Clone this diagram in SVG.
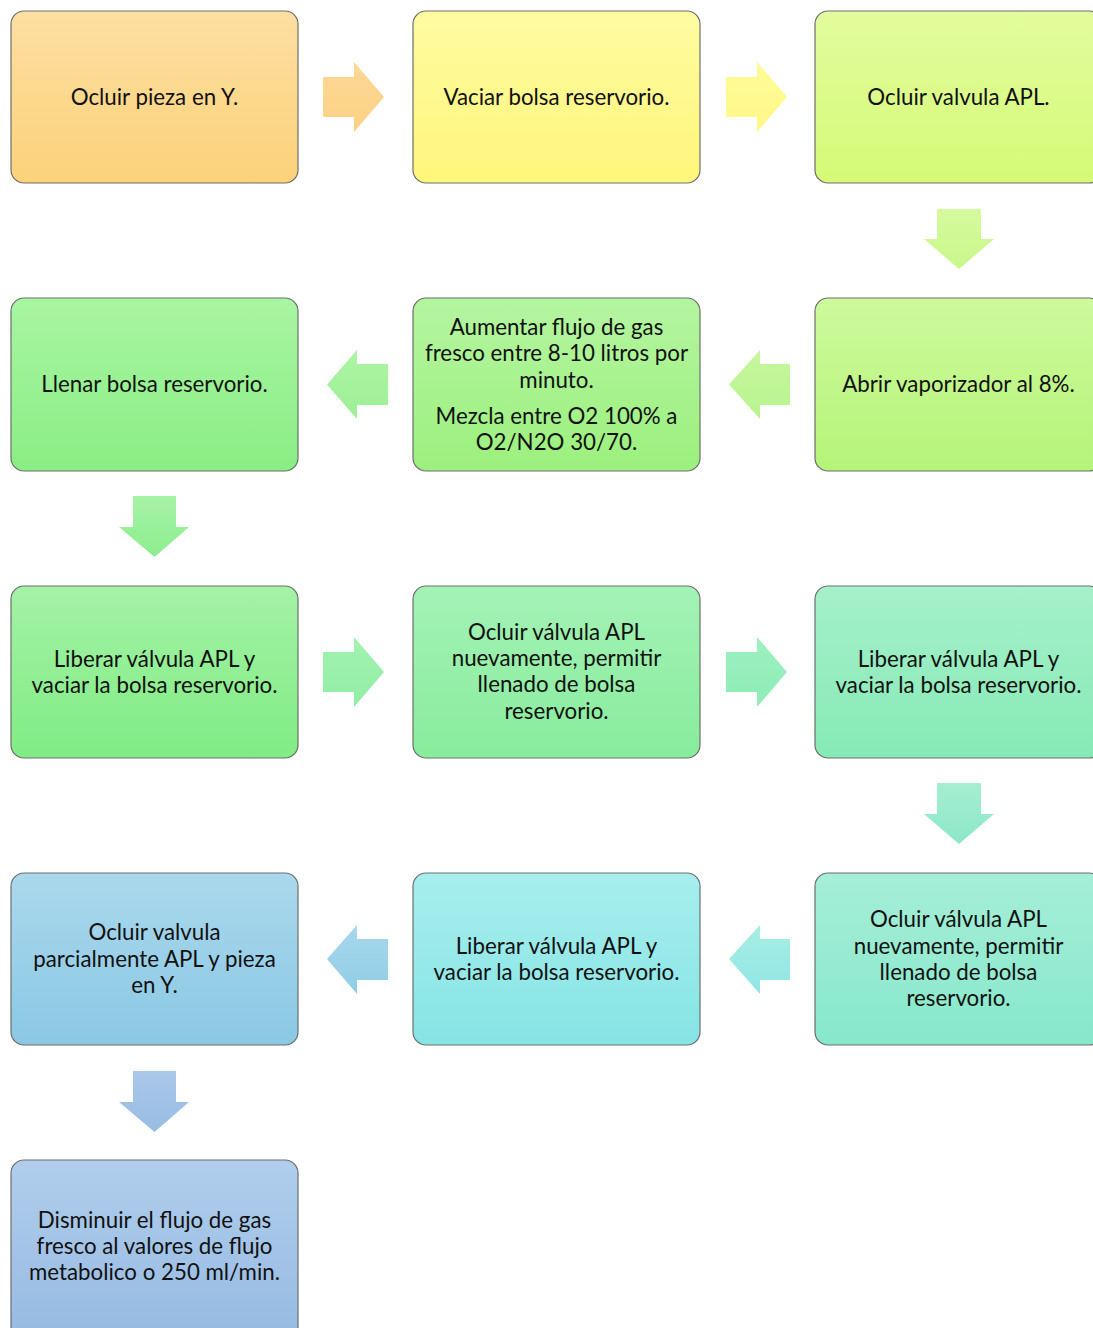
<svg xmlns="http://www.w3.org/2000/svg" width="1093" height="1328" viewBox="0 0 1093 1328">
<style>
.box{stroke:#6e6e6e;stroke-width:1.2}
.t{font-family:Lato,"Open Sans",sans-serif;font-size:22.3px;fill:#111;text-anchor:middle}
</style>
<defs>
<linearGradient id="g1" x1="0" y1="0" x2="0" y2="1"><stop offset="0" stop-color="#FDDFA2"/><stop offset="1" stop-color="#FCD27A"/></linearGradient>
<linearGradient id="g2" x1="0" y1="0" x2="0" y2="1"><stop offset="0" stop-color="#FFFBA2"/><stop offset="1" stop-color="#FFF67A"/></linearGradient>
<linearGradient id="g3" x1="0" y1="0" x2="0" y2="1"><stop offset="0" stop-color="#E2FC9E"/><stop offset="1" stop-color="#D5FA76"/></linearGradient>
<linearGradient id="g4" x1="0" y1="0" x2="0" y2="1"><stop offset="0" stop-color="#CEFA9C"/><stop offset="1" stop-color="#B4F478"/></linearGradient>
<linearGradient id="g5" x1="0" y1="0" x2="0" y2="1"><stop offset="0" stop-color="#B4F5A0"/><stop offset="1" stop-color="#9CF07E"/></linearGradient>
<linearGradient id="g6" x1="0" y1="0" x2="0" y2="1"><stop offset="0" stop-color="#A8F5A2"/><stop offset="1" stop-color="#8AEE84"/></linearGradient>
<linearGradient id="g7" x1="0" y1="0" x2="0" y2="1"><stop offset="0" stop-color="#A4F2A6"/><stop offset="1" stop-color="#80EC84"/></linearGradient>
<linearGradient id="g8" x1="0" y1="0" x2="0" y2="1"><stop offset="0" stop-color="#A4F2B6"/><stop offset="1" stop-color="#88EC9C"/></linearGradient>
<linearGradient id="g9" x1="0" y1="0" x2="0" y2="1"><stop offset="0" stop-color="#A6F0CA"/><stop offset="1" stop-color="#86EAB6"/></linearGradient>
<linearGradient id="g10" x1="0" y1="0" x2="0" y2="1"><stop offset="0" stop-color="#A6EED8"/><stop offset="1" stop-color="#86E8CA"/></linearGradient>
<linearGradient id="g11" x1="0" y1="0" x2="0" y2="1"><stop offset="0" stop-color="#A8EEEE"/><stop offset="1" stop-color="#86E4E4"/></linearGradient>
<linearGradient id="g12" x1="0" y1="0" x2="0" y2="1"><stop offset="0" stop-color="#AAD8EC"/><stop offset="1" stop-color="#8AC8E4"/></linearGradient>
<linearGradient id="g13" x1="0" y1="0" x2="0" y2="1"><stop offset="0" stop-color="#B0CEEC"/><stop offset="1" stop-color="#96BAE2"/></linearGradient>
<linearGradient id="a1" x1="0" y1="0" x2="0" y2="1"><stop offset="0" stop-color="#FDD896"/><stop offset="1" stop-color="#FCD184"/></linearGradient>
<linearGradient id="a2" x1="0" y1="0" x2="0" y2="1"><stop offset="0" stop-color="#FFFB98"/><stop offset="1" stop-color="#FFF888"/></linearGradient>
<linearGradient id="a3" x1="0" y1="0" x2="0" y2="1"><stop offset="0" stop-color="#D6FA9E"/><stop offset="1" stop-color="#C8F88C"/></linearGradient>
<linearGradient id="a4" x1="0" y1="0" x2="0" y2="1"><stop offset="0" stop-color="#C6F79E"/><stop offset="1" stop-color="#B8F48E"/></linearGradient>
<linearGradient id="a5" x1="0" y1="0" x2="0" y2="1"><stop offset="0" stop-color="#ADF4A4"/><stop offset="1" stop-color="#9CF096"/></linearGradient>
<linearGradient id="a6" x1="0" y1="0" x2="0" y2="1"><stop offset="0" stop-color="#A6F2A6"/><stop offset="1" stop-color="#8CEE8E"/></linearGradient>
<linearGradient id="a7" x1="0" y1="0" x2="0" y2="1"><stop offset="0" stop-color="#A2F2B0"/><stop offset="1" stop-color="#92EEA4"/></linearGradient>
<linearGradient id="a8" x1="0" y1="0" x2="0" y2="1"><stop offset="0" stop-color="#9CF0C0"/><stop offset="1" stop-color="#8EEDB6"/></linearGradient>
<linearGradient id="a9" x1="0" y1="0" x2="0" y2="1"><stop offset="0" stop-color="#A6EED2"/><stop offset="1" stop-color="#8CE8C8"/></linearGradient>
<linearGradient id="a10" x1="0" y1="0" x2="0" y2="1"><stop offset="0" stop-color="#A8EEE2"/><stop offset="1" stop-color="#90E6E6"/></linearGradient>
<linearGradient id="a11" x1="0" y1="0" x2="0" y2="1"><stop offset="0" stop-color="#A8D8EC"/><stop offset="1" stop-color="#90CCE6"/></linearGradient>
<linearGradient id="a12" x1="0" y1="0" x2="0" y2="1"><stop offset="0" stop-color="#AAC8E8"/><stop offset="1" stop-color="#98BCE4"/></linearGradient>
</defs>
<rect width="1093" height="1328" fill="#fff"/>

<g id="connectors">
<path fill="url(#a1)" d="M323,77 H354 V62 L384,97 L354,132 V117 H323 Z"/>
<path fill="url(#a2)" d="M726,77 H757 V62 L787,97 L757,132 V117 H726 Z"/>
<path fill="url(#a3)" d="M937,209 H981 V239 H994 L959,269 L924,239 H937 Z"/>
<path fill="url(#a4)" d="M790,364 H760 V350 L729,384.5 L760,419 V405 H790 Z"/>
<path fill="url(#a5)" d="M388,364 H357 V350 L327,384.5 L357,419 V405 H388 Z"/>
<path fill="url(#a6)" d="M133,496 H176 V527 H189 L154.5,557 L119,527 H133 Z"/>
<path fill="url(#a7)" d="M323,652 H354 V637 L384,672 L354,707 V692 H323 Z"/>
<path fill="url(#a8)" d="M726,652 H757 V637 L787,672 L757,707 V692 H726 Z"/>
<path fill="url(#a9)" d="M937,783 H981 V814 H994 L959,844 L924,814 H937 Z"/>
<path fill="url(#a10)" d="M790,939 H760 V925 L729,959 L760,994 V980 H790 Z"/>
<path fill="url(#a11)" d="M388,939 H357 V925 L327,959 L357,994 V980 H388 Z"/>
<path fill="url(#a12)" d="M133,1071 H176 V1102 H189 L154.5,1132 L119,1102 H133 Z"/>
</g>

<g id="n1"><rect class="box" x="11" y="11" width="287" height="172" rx="13" fill="url(#g1)"/>
<text class="t" x="154.5" y="105">Ocluir pieza en Y.</text></g>
<g id="n2"><rect class="box" x="413" y="11" width="287" height="172" rx="13" fill="url(#g2)"/>
<text class="t" x="556.5" y="105">Vaciar bolsa reservorio.</text></g>
<g id="n3"><rect class="box" x="815" y="11" width="287" height="172" rx="13" fill="url(#g3)"/>
<text class="t" x="958.5" y="105">Ocluir valvula APL.</text></g>

<g id="n4"><rect class="box" x="815" y="298" width="287" height="173" rx="13" fill="url(#g4)"/>
<text class="t" x="958.5" y="392">Abrir vaporizador al 8%.</text></g>
<g id="n5"><rect class="box" x="413" y="298" width="287" height="173" rx="13" fill="url(#g5)"/>
<text class="t" x="556.5" y="335">Aumentar flujo de gas</text>
<text class="t" x="556.5" y="361">fresco entre 8-10 litros por</text>
<text class="t" x="556.5" y="388">minuto.</text>
<text class="t" x="556.5" y="424">Mezcla entre O2 100% a</text>
<text class="t" x="556.5" y="450">O2/N2O 30/70.</text></g>
<g id="n6"><rect class="box" x="11" y="298" width="287" height="173" rx="13" fill="url(#g6)"/>
<text class="t" x="154.5" y="392">Llenar bolsa reservorio.</text></g>

<g id="n7"><rect class="box" x="11" y="586" width="287" height="172" rx="13" fill="url(#g7)"/>
<text class="t" x="154.5" y="667">Liberar válvula APL y</text>
<text class="t" x="154.5" y="693">vaciar la bolsa reservorio.</text></g>
<g id="n8"><rect class="box" x="413" y="586" width="287" height="172" rx="13" fill="url(#g8)"/>
<text class="t" x="556.5" y="640">Ocluir válvula APL</text>
<text class="t" x="556.5" y="666">nuevamente, permitir</text>
<text class="t" x="556.5" y="692">llenado de bolsa</text>
<text class="t" x="556.5" y="719">reservorio.</text></g>
<g id="n9"><rect class="box" x="815" y="586" width="287" height="172" rx="13" fill="url(#g9)"/>
<text class="t" x="958.5" y="667">Liberar válvula APL y</text>
<text class="t" x="958.5" y="693">vaciar la bolsa reservorio.</text></g>

<g id="n10"><rect class="box" x="815" y="873" width="287" height="172" rx="13" fill="url(#g10)"/>
<text class="t" x="958.5" y="927">Ocluir válvula APL</text>
<text class="t" x="958.5" y="954">nuevamente, permitir</text>
<text class="t" x="958.5" y="980">llenado de bolsa</text>
<text class="t" x="958.5" y="1006">reservorio.</text></g>
<g id="n11"><rect class="box" x="413" y="873" width="287" height="172" rx="13" fill="url(#g11)"/>
<text class="t" x="556.5" y="954">Liberar válvula APL y</text>
<text class="t" x="556.5" y="980">vaciar la bolsa reservorio.</text></g>
<g id="n12"><rect class="box" x="11" y="873" width="287" height="172" rx="13" fill="url(#g12)"/>
<text class="t" x="154.5" y="940">Ocluir valvula</text>
<text class="t" x="154.5" y="967">parcialmente APL y pieza</text>
<text class="t" x="154.5" y="993">en Y.</text></g>

<g id="n13"><rect class="box" x="11" y="1160" width="287" height="180" rx="13" fill="url(#g13)"/>
<text class="t" x="154.5" y="1228">Disminuir el flujo de gas</text>
<text class="t" x="154.5" y="1254">fresco al valores de flujo</text>
<text class="t" x="154.5" y="1280">metabolico o 250 ml/min.</text></g>
</svg>
